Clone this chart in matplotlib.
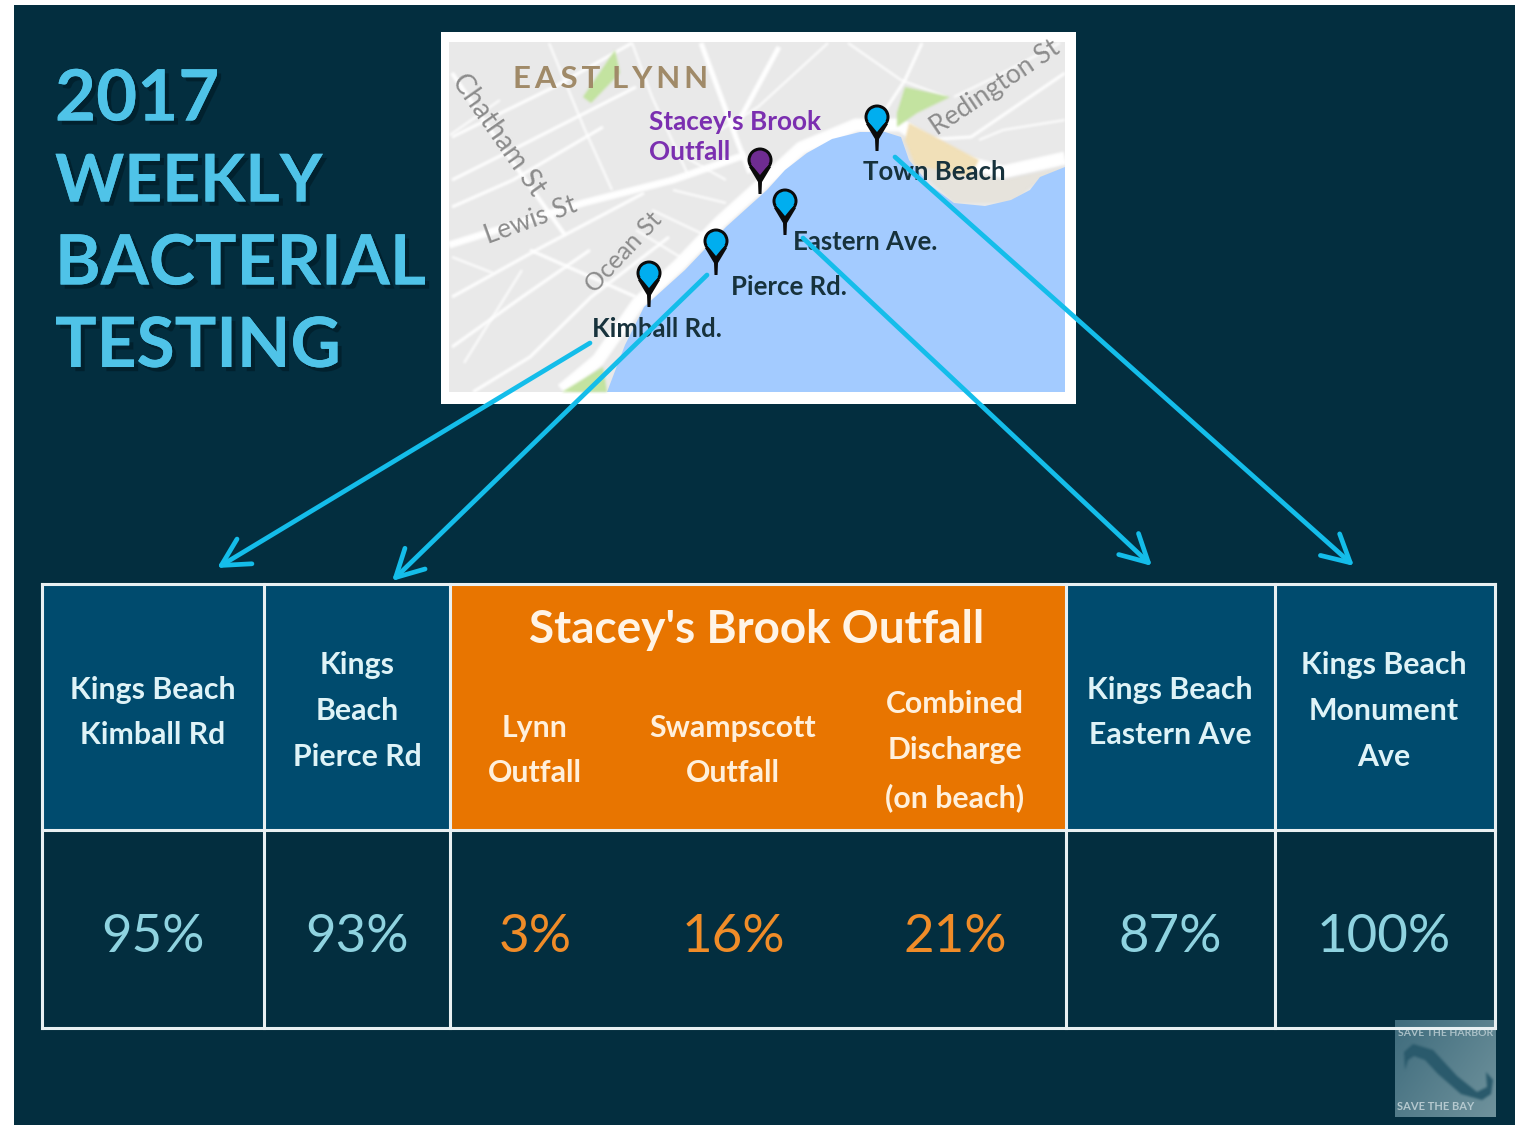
# 2017 weekly bacterial testing slide, drawn in pixel coordinates

import numpy as np
import matplotlib
matplotlib.use('Agg')
import matplotlib.pyplot as plt
from matplotlib.patches import Rectangle, Polygon, Circle, FancyArrowPatch
import matplotlib.patheffects as pe

#%% Input

title_lines = ['2017', 'WEEKLY', 'BACTERIAL', 'TESTING']
brook_title = "Stacey's Brook Outfall"

site_labels = ['Kings Beach\nKimball Rd', 'Kings\nBeach\nPierce Rd', 'Lynn\nOutfall',
               'Swampscott\nOutfall', 'Combined\nDischarge\n(on beach)',
               'Kings Beach\nEastern Ave', 'Kings Beach\nMonument\nAve']
site_values = [95, 93, 3, 16, 21, 87, 100]
site_is_outfall = [False, False, True, True, True, False, False]

pin_labels = ['Kimball Rd.', 'Pierce Rd.', 'Eastern Ave.', 'Town Beach']

#%% Colors

bg = '#032e3f'
cyan = '#4fc3e8'
arrow_c = '#14bdea'
head_blue = '#004b6e'
orange = '#e87500'
val_blue = '#8fd3e0'
val_orange = '#f08c28'
land = '#e9e9e9'
water = '#a3cbff'


def blur(radius):
    # small box blur so the map looks soft like the screenshot
    def box(a):
        for axis in (0, 1):
            for _ in range(2):
                a = sum(np.roll(a, s, axis=axis) for s in range(-radius, radius + 1)) / (2 * radius + 1)
        return a

    def f(im, dpi):
        pad = radius * 3
        out = np.pad(im, ((pad, pad), (pad, pad), (0, 0)))
        alpha = out[:, :, 3:]
        a2 = box(alpha)
        rgb = box(out[:, :, :3] * alpha) / np.maximum(a2, 1e-4)
        return np.concatenate([np.clip(rgb, 0, 1), a2], axis=2), -pad, -pad
    return f


fig = plt.figure(figsize=(15.16, 11.25), dpi=100, facecolor='white')
ax = fig.add_axes([0, 0, 1, 1])
ax.set_xlim(0, 1516)
ax.set_ylim(1125, 0)
ax.axis('off')
ax.add_patch(Rectangle((14, 5), 1501, 1120, fc=bg, ec='none', zorder=0))

plt.rcParams['font.family'] = ['Lato', 'DejaVu Sans']

#%% Title

shadow = [pe.withSimplePatchShadow(offset=(3, -3), shadow_rgbFace='#00151f', alpha=0.5), pe.Normal()]
title_sizes = [51, 47.5, 50, 50]
for i, line in enumerate(title_lines):
    ax.text(55, 100 + 82.5 * i, line, color=cyan, fontsize=title_sizes[i], fontweight='bold',
            va='center', ha='left', path_effects=shadow, zorder=2)

#%% Map

ax.add_patch(Rectangle((441, 32), 635, 372, fc='white', ec='none', zorder=1))
ax.add_patch(Rectangle((449, 42), 616, 350, fc=land, ec='none', zorder=1))

# parks and sand
map_fill = [
    ([(583, 97), (615, 50), (620, 73), (591, 103)], '#c3e3a0'),
    ([(897, 113), (905, 87), (950, 97), (917, 113), (897, 127)], '#c3e3a0'),
    ([(562, 392), (603, 367), (607, 392)], '#c3e3a0'),
    ([(905, 140), (909, 123), (979, 160), (970, 177), (940, 170), (915, 165)], '#f2e0b8'),
]
for pts, col in map_fill:
    ax.add_patch(Polygon(pts, closed=True, fc=col, ec='none', zorder=1.3, agg_filter=blur(1)))

# streets
streets = [
    ([(449, 245), (583, 203), (673, 180), (745, 155)], 7),
    ([(562, 390), (598, 360), (638, 303), (679, 265), (720, 222), (761, 185), (801, 148), (856, 125),
      (901, 125), (950, 158), (1003, 172), (1065, 158)], 13),
    ([(452, 73), (497, 140), (542, 203), (565, 235)], 4),
    ([(452, 137), (554, 87), (632, 43)], 3),
    ([(452, 180), (526, 143), (636, 87)], 3),
    ([(452, 207), (513, 180), (603, 127)], 3),
    ([(452, 297), (542, 247), (644, 193)], 3),
    ([(452, 347), (522, 297), (590, 250)], 3),
    ([(473, 392), (530, 357), (591, 297), (669, 237)], 3),
    ([(530, 250), (636, 297)], 3),
    ([(452, 257), (493, 273)], 2),
    ([(522, 270), (464, 363)], 2),
    ([(701, 43), (738, 143), (750, 173)], 5),
    ([(779, 47), (734, 130)], 5),
    ([(632, 43), (652, 97), (689, 177)], 2),
    ([(828, 43), (758, 107), (720, 130)], 2),
    ([(922, 43), (905, 80), (877, 123)], 3),
    ([(848, 43), (901, 80), (946, 97)], 2),
    ([(1065, 73), (971, 137), (922, 140)], 3),
    ([(1065, 120), (1003, 130), (979, 140)], 2),
    ([(954, 97), (995, 77), (1060, 43)], 2),
    ([(673, 190), (726, 203)], 2),
    ([(652, 210), (709, 237)], 2),
    ([(636, 230), (685, 260)], 2),
    ([(685, 157), (726, 180)], 2),
    ([(549, 43), (585, 130), (612, 190)], 2),
    ([(500, 100), (450, 135)], 2),
]
for pts, w in streets:
    xs, ys = zip(*pts)
    ax.plot(xs, ys, color='white', lw=w * 0.72, solid_capstyle='butt', zorder=1.1,
            agg_filter=blur(1))

# beach land, then water on top of it
ax.add_patch(Polygon([(901, 137), (950, 166), (1003, 180), (1065, 167), (1040, 180), (1011, 203), (954, 203), (909, 160)],
                     closed=True, fc='#e6e3dc', ec='none', zorder=1.15, agg_filter=blur(1)))
coast = [(607, 392), (625, 345), (644, 307), (665, 288), (685, 270), (726, 227), (767, 190), (785, 170), (807, 153),
         (832, 139), (860, 132), (885, 132), (901, 137), (909, 160), (930, 185), (954, 203), (985, 206), (1011, 200),
         (1030, 190), (1040, 177), (1065, 167), (1065, 392)]
ax.add_patch(Polygon(coast, closed=True, fc=water, ec='none', zorder=1.2))

# map labels
ax.text(513, 79, '\u2009'.join('EAST') + '\u2009\u2009\u2009' + '\u2009'.join('LYNN'), color='#a08a68', fontsize=22.5,
        fontweight='bold', va='center', ha='left', zorder=3)
road_c = '#8c8c8c'
ax.text(498, 135, 'Chatham St', color=road_c, fontsize=20, rotation=-55, ha='center', va='center', zorder=3)
ax.text(531, 220, 'Lewis St', color=road_c, fontsize=19, rotation=20, ha='center', va='center', zorder=3)
ax.text(624, 252, 'Ocean St', color=road_c, fontsize=18, rotation=47, ha='center', va='center', zorder=3)
ax.text(995, 88, 'Redington St', color=road_c, fontsize=19, rotation=34, ha='center', va='center', zorder=3)
ax.text(649, 137, "Stacey's Brook\nOutfall", color='#7b2fb0', fontsize=18.8, fontweight='bold',
        ha='left', va='center', linespacing=1.25, zorder=3)

label_pos = [(592, 329), (731, 287), (793, 242), (863, 172)]
for lab, (x, y) in zip(pin_labels, label_pos):
    ax.text(x, y, lab, color='#17323c', fontsize=18.5, fontweight='bold', ha='left', va='center', zorder=3)

# pins
pin_pos = [(649, 273, '#00aeef'), (716, 241, '#00aeef'), (785, 201, '#00aeef'),
           (877, 117, '#00aeef'), (760, 160, '#6f2c91')]
for x, y, col in pin_pos:
    ax.add_patch(Polygon([(x - 11, y + 7), (x + 11, y + 7), (x + 2, y + 22), (x + 1.5, y + 34), (x - 1.5, y + 34), (x - 2, y + 22)],
                         closed=True, fc='#0b0b0b', ec='none', zorder=4))
    ax.add_patch(Circle((x, y), 12.5, fc='#0b0b0b', ec='none', zorder=4))
    ax.add_patch(Polygon([(x - 9, y + 4), (x + 9, y + 4), (x, y + 15)], closed=True, fc=col, ec='none', zorder=4.1))
    ax.add_patch(Circle((x, y), 9.5, fc=col, ec='none', zorder=4.1))

#%% Arrows

arrows = [((590, 343), (217, 568)), ((707, 275), (392, 581)),
          ((803, 238), (1152, 566)), ((895, 157), (1354, 566))]
for a, b in arrows:
    ax.add_patch(FancyArrowPatch(a, b, arrowstyle='->,head_length=0.75,head_width=0.4', mutation_scale=26,
                                 color=arrow_c, lw=3.4, shrinkA=0, shrinkB=0, zorder=5))

#%% Table

col_edges = [42, 264, 450, 1066, 1275, 1495]
top, mid, bot = 584, 830, 1028
xc = [153, 357, 535, 733, 955, 1170, 1384]
yc = [712.5, 711, 750.5, 750.5, 751, 712.5, 711]

ax.add_patch(Rectangle((42, top), 222, mid - top, fc=head_blue, ec='none', zorder=2))
ax.add_patch(Rectangle((264, top), 186, mid - top, fc=head_blue, ec='none', zorder=2))
ax.add_patch(Rectangle((450, top), 616, mid - top, fc=orange, ec='none', zorder=2))
ax.add_patch(Rectangle((1066, top), 209, mid - top, fc=head_blue, ec='none', zorder=2))
ax.add_patch(Rectangle((1275, top), 220, mid - top, fc=head_blue, ec='none', zorder=2))

for x in col_edges:
    ax.plot([x, x], [top, bot], color='#e8f0f2', lw=2.2, zorder=3, solid_capstyle='projecting')
for y in (top, mid, bot):
    ax.plot([42, 1495], [y, y], color='#e8f0f2', lw=2.2, zorder=3, solid_capstyle='projecting')

ax.text(757, 630, brook_title, color='#fff4e6', fontsize=33, fontweight='bold', ha='center', va='center', zorder=4)

for x, y, lab, val, out in zip(xc, yc, site_labels, site_values, site_is_outfall):
    ax.text(x, y, lab, color='#fff0dc' if out else '#dff3f7', fontsize=21.8, fontweight='bold',
            ha='center', va='center', linespacing=1.78, zorder=4)
    ax.text(x, 937, '%d%%' % val, color=val_orange if out else val_blue, fontsize=38,
            ha='center', va='center', zorder=4)

#%% Logo

grad = np.linspace(0, 1, 40)[None, :] * 0.6 + np.linspace(0, 1, 40)[:, None] * 0.4
logo = np.zeros((40, 40, 3))
c0 = np.array(matplotlib.colors.to_rgb('#3f6c7d'))
c1 = np.array(matplotlib.colors.to_rgb('#6f929c'))
logo[:] = c0 + (c1 - c0) * grad[:, :, None]
ax.imshow(logo, extent=(1395, 1496, 1117, 1020), aspect='auto', zorder=1.5, interpolation='bilinear')
ax.set_xlim(0, 1516)
ax.set_ylim(1125, 0)
wave = Polygon([(1405, 1070), (1404, 1052), (1413, 1044), (1433, 1050), (1457, 1076), (1477, 1092), (1487, 1087), (1486, 1072),
                (1493, 1080), (1491, 1094), (1482, 1100), (1461, 1094), (1438, 1074), (1425, 1060), (1414, 1056), (1408, 1060)],
               closed=True, fc='#2a5a6c', ec='none', zorder=1.6, agg_filter=blur(1))
ax.add_patch(wave)
ax.text(1446, 1034, 'SAVE THE HARBOR', color='#a9bfc6', fontsize=7.5, fontweight='bold', ha='center', va='center', zorder=1.7)
ax.text(1397, 1107, 'SAVE THE BAY', color='#b4c8ce', fontsize=8, fontweight='bold', ha='left', va='center', zorder=1.7)

fig.savefig('out.png', dpi=100, facecolor='white')
